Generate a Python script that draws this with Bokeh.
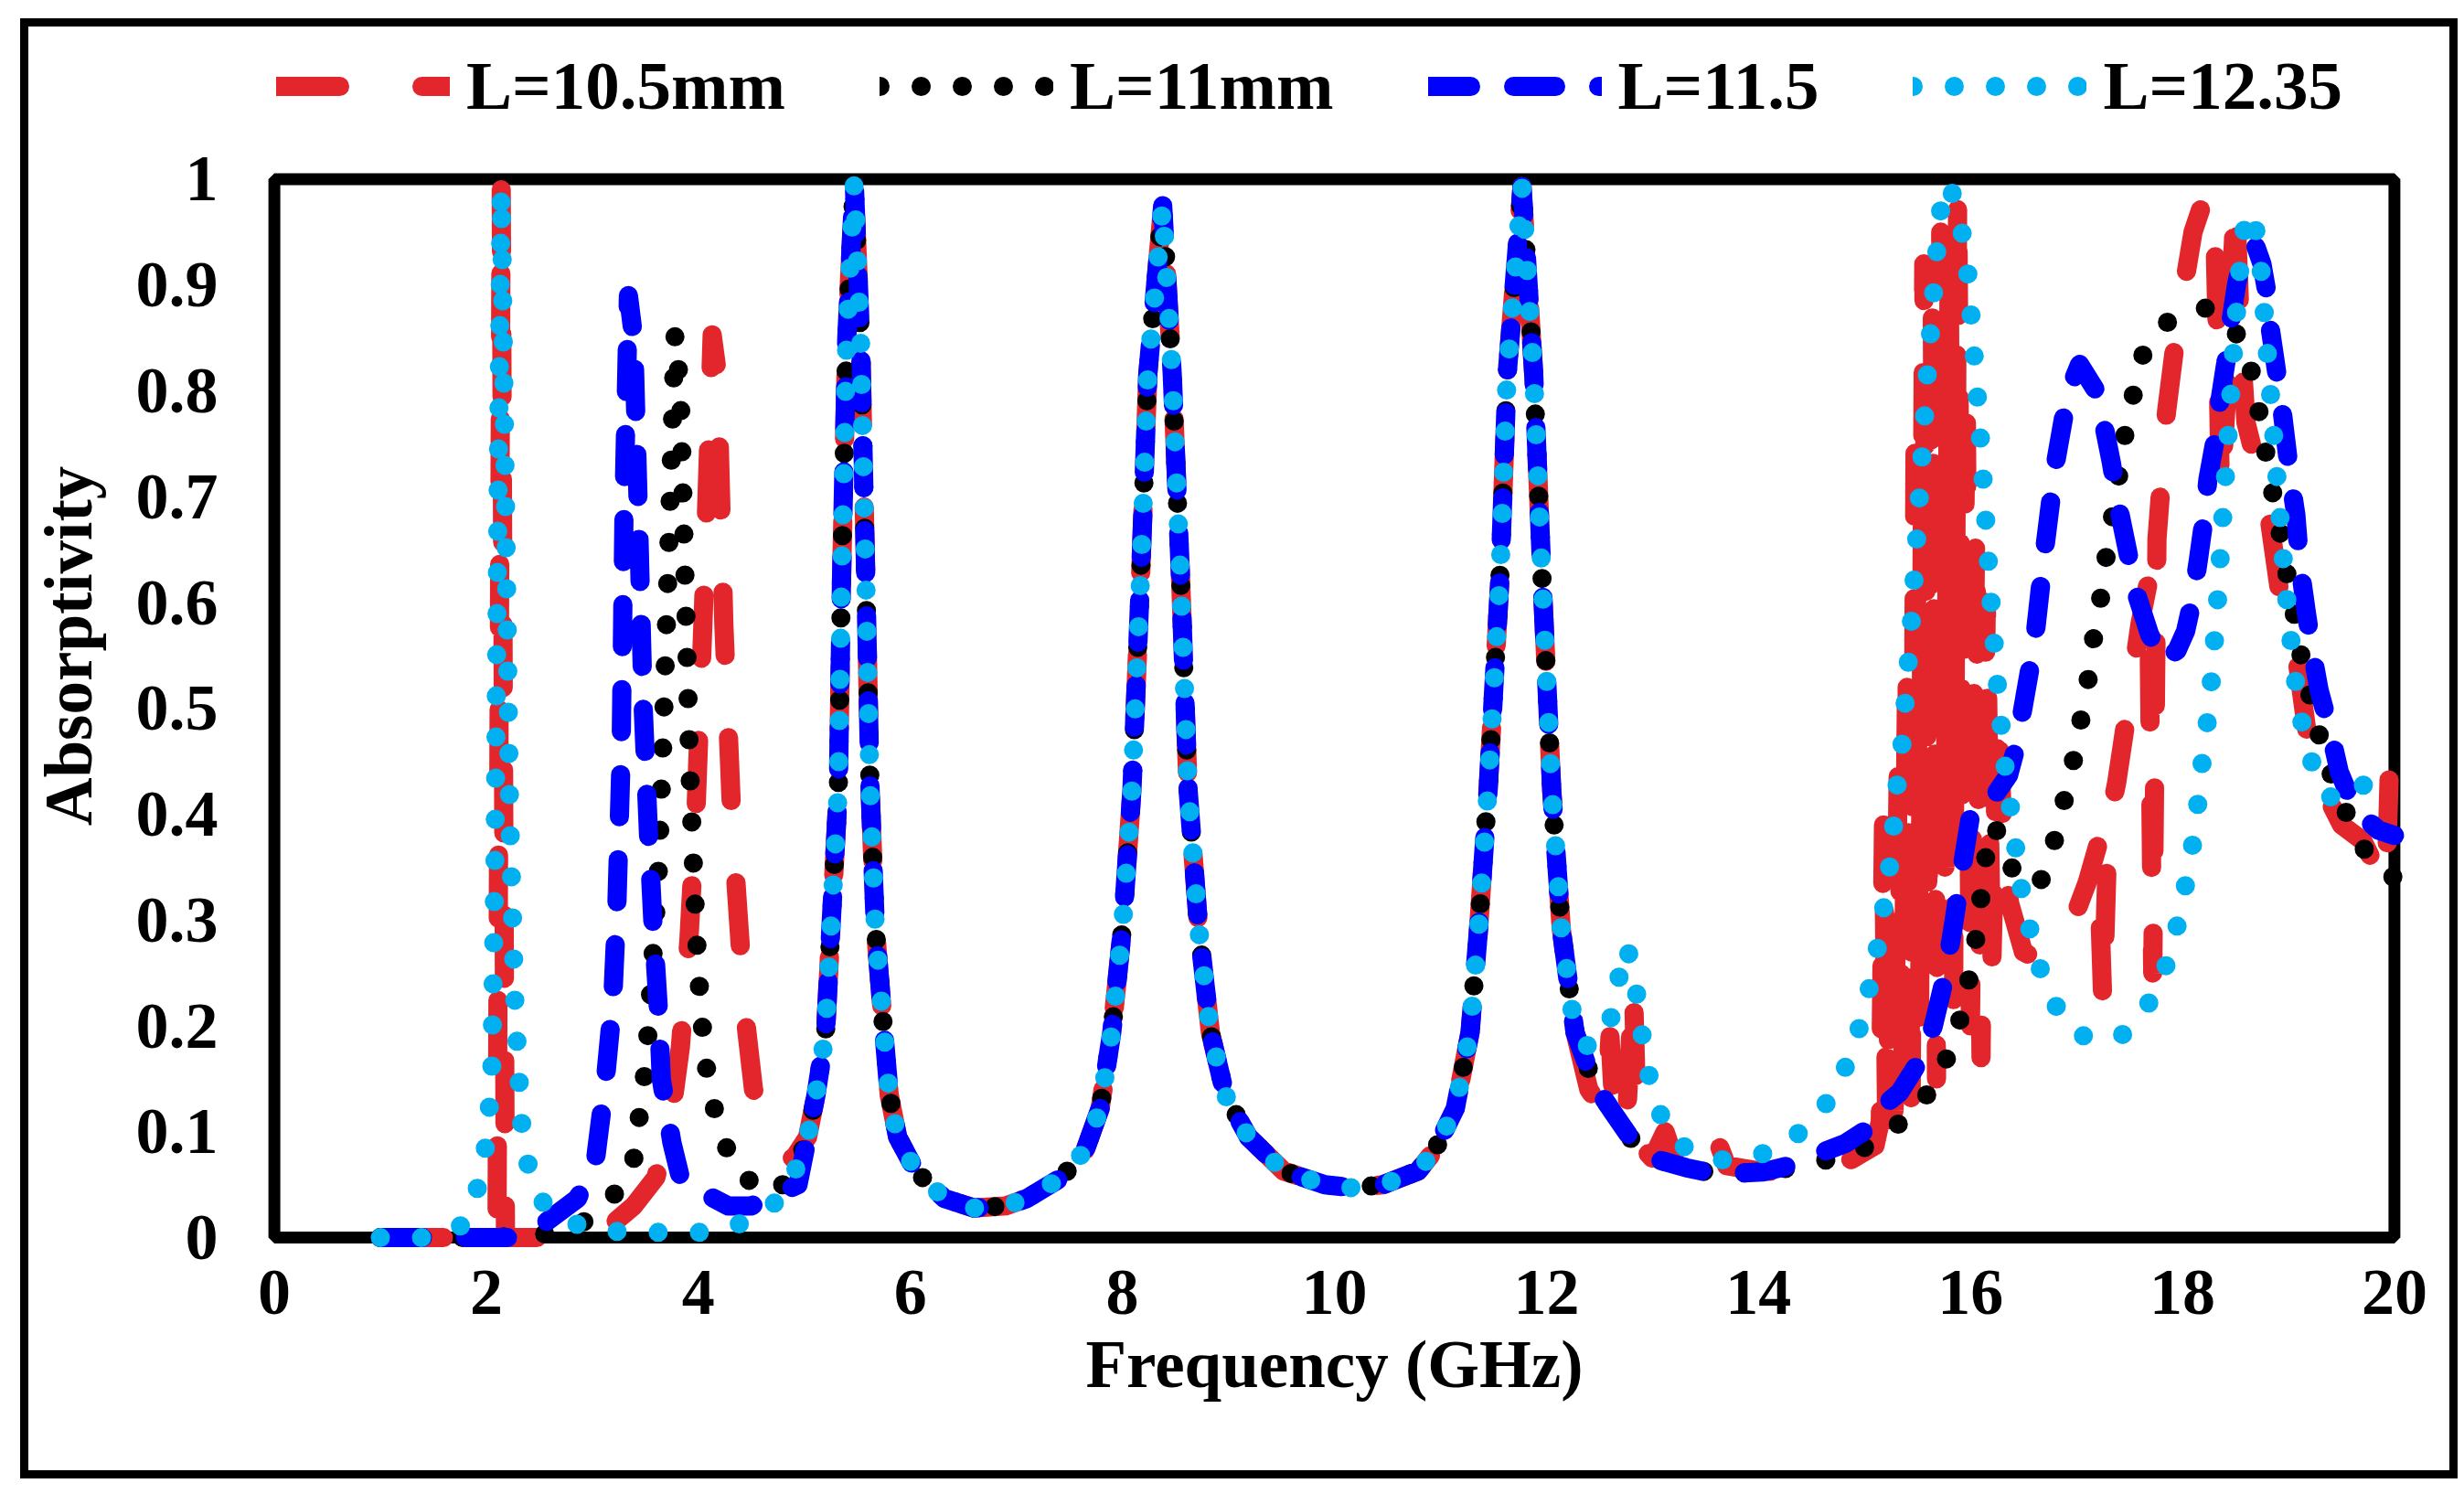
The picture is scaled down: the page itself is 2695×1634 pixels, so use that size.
from bokeh.plotting import figure
from bokeh.models import Legend, LegendItem, FixedTicker, Range1d
from bokeh.embed import file_html
from bokeh.resources import INLINE

# frequency (GHz), absorptivity pairs
red_low = [(1.0, 0), (1.5, 0), (2.0, 0), (2.1, 0.0), (2.14, 0.99), (2.18, 0.0), (2.5, 0.0),
           (3.0, 0.005), (3.19, 0.013), (3.39, 0.03), (3.6, 0.057), (3.75, 0.12), (3.83, 0.18),
           (3.91, 0.28), (3.98, 0.41), (4.05, 0.6), (4.13, 0.853), (4.18, 0.816), (4.24, 0.58),
           (4.31, 0.41), (4.35, 0.342), (4.44, 0.21), (4.52, 0.14), (4.65, 0.1), (4.78, 0.078),
           (4.9, 0.075)]
black_low = [(1.0, 0), (2.0, 0), (2.5, 0.002), (2.92, 0.015), (3.24, 0.044), (3.39, 0.074),
             (3.45, 0.12), (3.5, 0.16), (3.53, 0.2), (3.58, 0.28), (3.62, 0.34), (3.66, 0.45),
             (3.72, 0.65), (3.78, 0.855), (3.83, 0.8), (3.88, 0.6), (3.92, 0.44), (3.95, 0.36),
             (3.98, 0.29), (4.0, 0.25), (4.03, 0.21), (4.06, 0.17), (4.13, 0.13), (4.22, 0.095),
             (4.38, 0.06), (4.7, 0.041), (4.9, 0.06)]
blue_low = [(1.0, 0), (2.2, 0), (2.5, 0.01), (2.86, 0.037), (3.03, 0.074), (3.12, 0.146),
            (3.19, 0.22), (3.23, 0.31), (3.27, 0.45), (3.3, 0.7), (3.34, 0.89), (3.39, 0.85),
            (3.43, 0.7), (3.48, 0.5), (3.53, 0.38), (3.57, 0.3), (3.62, 0.22), (3.65, 0.15),
            (3.75, 0.09), (3.84, 0.053), (4.28, 0.03), (4.5, 0.03), (4.94, 0.05)]
cyan_low = [(1.0, 0), (1.4, 0), (1.75, 0.01), (1.93, 0.05), (2.0, 0.09), (2.05, 0.15),
            (2.08, 0.35), (2.11, 0.7), (2.14, 0.99), (2.18, 0.7), (2.22, 0.4), (2.27, 0.22),
            (2.33, 0.11), (2.4, 0.065), (2.55, 0.03), (2.9, 0.01), (3.3, 0.005), (4.1, 0.005),
            (4.46, 0.015), (4.78, 0.037), (4.98, 0.077)]

# the three resonances all four lengths share
common_mid = [(5.03, 0.095), (5.11, 0.135), (5.2, 0.194), (5.25, 0.292), (5.32, 0.423),
              (5.35, 0.62), (5.4, 0.85), (5.47, 0.997), (5.53, 0.85), (5.58, 0.62),
              (5.62, 0.423), (5.67, 0.292), (5.75, 0.194), (5.8, 0.135), (5.88, 0.095),
              (6.05, 0.063), (6.32, 0.037), (6.6, 0.028), (6.9, 0.03), (7.1, 0.037),
              (7.43, 0.057), (7.65, 0.083), (7.79, 0.122), (7.9, 0.194), (8.0, 0.292),
              (8.09, 0.423), (8.17, 0.62), (8.24, 0.816), (8.38, 0.975), (8.47, 0.816),
              (8.55, 0.62), (8.62, 0.423), (8.72, 0.292), (8.83, 0.194), (8.97, 0.135),
              (9.19, 0.095), (9.52, 0.063), (9.91, 0.05), (10.18, 0.047), (10.46, 0.05),
              (10.79, 0.063), (10.95, 0.083), (11.14, 0.122), (11.28, 0.194), (11.36, 0.292),
              (11.45, 0.423), (11.56, 0.62), (11.63, 0.816), (11.77, 0.993), (11.88, 0.816),
              (11.96, 0.62), (12.05, 0.423), (12.14, 0.292), (12.27, 0.194)]

red_high = [(12.4, 0.14), (12.5, 0.125), (12.56, 0.12), (12.6, 0.19), (12.64, 0.115),
            (12.75, 0.1), (12.82, 0.24), (12.86, 0.09), (13.0, 0.075), (13.12, 0.1),
            (13.22, 0.07), (13.5, 0.064), (13.6, 0.095), (13.7, 0.068), (14.0, 0.063),
            (14.3, 0.062), (14.57, 0.064), (14.88, 0.074), (15.1, 0.087), (15.15, 0.11),
            (15.18, 0.39), (15.21, 0.11), (15.25, 0.3), (15.28, 0.12), (15.32, 0.45),
            (15.36, 0.14), (15.4, 0.55), (15.44, 0.12), (15.48, 0.78), (15.52, 0.2),
            (15.56, 0.92), (15.6, 0.3), (15.64, 0.88), (15.68, 0.15), (15.72, 0.95),
            (15.76, 0.35), (15.8, 0.92), (15.84, 0.2), (15.88, 0.99), (15.92, 0.4),
            (15.96, 0.8), (16.0, 0.2), (16.05, 0.67), (16.1, 0.17), (16.15, 0.6),
            (16.2, 0.25), (16.26, 0.5), (16.32, 0.35), (16.37, 0.316), (16.5, 0.27),
            (16.65, 0.262), (16.8, 0.27), (16.95, 0.295), (17.1, 0.335), (17.2, 0.37),
            (17.25, 0.22), (17.3, 0.39), (17.38, 0.43), (17.5, 0.51), (17.6, 0.58),
            (17.68, 0.62), (17.72, 0.25), (17.76, 0.66), (17.85, 0.78), (17.95, 0.86),
            (18.1, 0.95), (18.22, 0.986), (18.3, 0.975), (18.33, 0.85), (18.36, 0.7),
            (18.42, 0.8), (18.5, 0.984), (18.55, 0.85), (18.6, 0.77), (18.7, 0.73),
            (18.79, 0.7), (18.91, 0.615), (19.08, 0.547), (19.2, 0.46), (19.3, 0.43),
            (19.5, 0.39), (19.7, 0.375), (19.85, 0.345), (19.92, 0.33), (19.96, 0.47),
            (20.0, 0.44)]
black_high = [(12.45, 0.145), (12.63, 0.118), (12.83, 0.089), (13.04, 0.074), (13.32, 0.066),
              (13.61, 0.06), (14.04, 0.062), (14.3, 0.066), (14.54, 0.071), (14.92, 0.08),
              (15.25, 0.101), (15.54, 0.127), (15.74, 0.16), (15.88, 0.197), (15.97, 0.235),
              (16.04, 0.274), (16.09, 0.312), (16.13, 0.351), (16.2, 0.39), (16.32, 0.376),
              (16.42, 0.339), (16.55, 0.333), (16.66, 0.336), (16.79, 0.374), (16.88, 0.411),
              (16.97, 0.45), (17.04, 0.488), (17.11, 0.527), (17.16, 0.565), (17.23, 0.605),
              (17.28, 0.643), (17.34, 0.681), (17.46, 0.76), (17.54, 0.798), (17.63, 0.835),
              (17.86, 0.865), (18.2, 0.879), (18.4, 0.868), (18.6, 0.842), (18.68, 0.804),
              (18.75, 0.765), (18.81, 0.727), (18.88, 0.688), (18.95, 0.651), (19.01, 0.611),
              (19.09, 0.572), (19.14, 0.534), (19.25, 0.497), (19.32, 0.459), (19.47, 0.421),
              (19.61, 0.385), (19.81, 0.351), (20.0, 0.34)]
blue_high = [(12.45, 0.145), (12.63, 0.118), (12.83, 0.089), (13.04, 0.074), (13.32, 0.066),
             (13.61, 0.06), (14.04, 0.062), (14.33, 0.069), (14.53, 0.078), (14.82, 0.089),
             (15.05, 0.104), (15.12, 0.12), (15.33, 0.137), (15.45, 0.156), (15.56, 0.173),
             (15.65, 0.2), (15.75, 0.242), (15.83, 0.289), (15.94, 0.361), (16.0, 0.398),
             (16.15, 0.421), (16.25, 0.421), (16.36, 0.437), (16.43, 0.463), (16.49, 0.497),
             (16.6, 0.56), (16.7, 0.65), (16.8, 0.73), (16.92, 0.798), (17.03, 0.825),
             (17.18, 0.801), (17.25, 0.772), (17.33, 0.732), (17.4, 0.689), (17.48, 0.65),
             (17.56, 0.61), (17.69, 0.57), (17.82, 0.544), (17.95, 0.555), (18.03, 0.573),
             (18.09, 0.6), (18.15, 0.64), (18.2, 0.676), (18.24, 0.716), (18.3, 0.749),
             (18.35, 0.788), (18.41, 0.827), (18.45, 0.861), (18.51, 0.9), (18.56, 0.924),
             (18.68, 0.94), (18.75, 0.92), (18.79, 0.897), (18.83, 0.858), (18.87, 0.831),
             (18.94, 0.782), (19.02, 0.716), (19.07, 0.683), (19.11, 0.633), (19.17, 0.59),
             (19.23, 0.55), (19.29, 0.517), (19.38, 0.484), (19.48, 0.44), (19.63, 0.404),
             (19.85, 0.385), (20.0, 0.38)]
cyan_high = [(12.4, 0.18), (12.5, 0.185), (12.6, 0.203), (12.67, 0.24), (12.76, 0.276),
             (12.84, 0.239), (12.89, 0.2), (12.95, 0.161), (13.04, 0.123), (13.23, 0.089),
             (13.59, 0.073), (13.97, 0.076), (14.32, 0.093), (14.6, 0.12), (14.79, 0.153),
             (14.93, 0.19), (15.03, 0.228), (15.11, 0.266), (15.17, 0.304), (15.23, 0.343),
             (15.27, 0.382), (15.3, 0.421), (15.35, 0.46), (15.38, 0.5), (15.44, 0.577),
             (15.49, 0.655), (15.54, 0.733), (15.59, 0.811), (15.65, 0.889), (15.71, 0.967),
             (15.8, 0.997), (15.91, 0.957), (15.97, 0.918), (16.03, 0.841), (16.09, 0.763),
             (16.14, 0.685), (16.19, 0.607), (16.25, 0.528), (16.32, 0.451), (16.42, 0.374),
             (16.47, 0.335), (16.55, 0.296), (16.64, 0.259), (16.79, 0.221), (17.03, 0.191),
             (17.4, 0.188), (17.66, 0.217), (17.83, 0.252), (17.94, 0.29), (18.02, 0.328),
             (18.09, 0.367), (18.14, 0.405), (18.18, 0.444), (18.23, 0.483), (18.27, 0.522),
             (18.33, 0.6), (18.38, 0.679), (18.43, 0.756), (18.48, 0.834), (18.54, 0.913),
             (18.58, 0.951), (18.66, 0.97), (18.73, 0.93), (18.79, 0.85), (18.85, 0.773),
             (18.91, 0.695), (18.97, 0.617), (19.05, 0.539), (19.1, 0.5), (19.18, 0.462),
             (19.3, 0.425), (19.45, 0.412), (19.61, 0.415), (19.85, 0.446), (19.95, 0.45)]

labels = ["L=10.5mm", "L=11mm", "L=11.5", "L=12.35"]
colors = ["#E3262B", "#000000", "#0000FF", "#00B0F0"]
dashes = ["69 90", "0 45", "46 47", "0 45"]

x_ticks = [0, 2, 4, 6, 8, 10, 12, 14, 16, 18, 20]
y_ticks = [0, 0.1, 0.2, 0.3, 0.4, 0.5, 0.6, 0.7, 0.8, 0.9, 1]
y_labels = ["0", "0.1", "0.2", "0.3", "0.4", "0.5", "0.6", "0.7", "0.8", "0.9", "1"]

FONT = "Liberation Serif"

# the Bokeh frame is taller than the 0..1 box so the legend can sit inside it
p = figure(width=2645, height=1579, frame_width=2342, frame_height=1322,
           x_range=Range1d(-0.1, 20.1), y_range=Range1d(-0.012, 1.13),
           output_backend="svg", toolbar_location=None,
           min_border_left=254, min_border_right=49, min_border_top=16, min_border_bottom=241)
# black outer frame around the whole chart
p.styles = {"margin-left": "22px", "margin-top": "20px", "border": "9px solid black"}
p.xgrid.grid_line_color = None
p.ygrid.grid_line_color = None
p.outline_line_color = None
p.background_fill_color = "white"
p.border_fill_color = "white"

# thick black plot-area box spanning the axis limits
p.quad(left=x_ticks[0], right=x_ticks[-1], bottom=y_ticks[0], top=y_ticks[-1],
       fill_color=None, line_color="black", line_width=13)

series = [red_low + common_mid + red_high,
          black_low + common_mid + black_high,
          blue_low + common_mid + blue_high,
          cyan_low + common_mid + cyan_high]

items = []
for pts, lab, col, dash in zip(series, labels, colors, dashes):
    xs = [q[0] for q in pts]
    ys = [q[1] for q in pts]
    r = p.line(xs, ys, line_color=col, line_width=21, line_dash=dash,
               line_cap="round", line_join="round")
    items.append(LegendItem(label=lab, renderers=[r]))

legend = Legend(items=items, orientation="horizontal", location=(14, 1230),
                label_text_font=FONT, label_text_font_style="bold",
                label_text_font_size="75px", label_text_color="black",
                glyph_width=190, glyph_height=40,
                label_standoff=18, spacing=103, padding=0, margin=0,
                border_line_color=None, background_fill_alpha=0)
p.add_layout(legend)

p.xaxis.ticker = FixedTicker(ticks=x_ticks)
p.yaxis.ticker = FixedTicker(ticks=y_ticks)
p.yaxis.major_label_overrides = dict(zip(y_ticks, y_labels))
p.xaxis.axis_label = "Frequency (GHz)"
p.yaxis.axis_label = "Absorptivity"

for ax in (p.xaxis[0], p.yaxis[0]):
    ax.axis_line_color = None
    ax.major_tick_line_color = None
    ax.minor_tick_line_color = None
    ax.major_tick_out = 0
    ax.major_tick_in = 0
    ax.major_label_text_font = FONT
    ax.major_label_text_font_style = "bold"
    ax.major_label_text_font_size = "72px"
    ax.major_label_text_color = "black"
    ax.axis_label_text_font = FONT
    ax.axis_label_text_font_style = "bold"
    ax.axis_label_text_font_size = "73px"
    ax.axis_label_text_color = "black"

p.xaxis.major_label_standoff = 22
p.xaxis.axis_label_standoff = 12
p.yaxis.major_label_standoff = 50
p.yaxis.axis_label_standoff = 30

open("out.html", "w").write(file_html(p, INLINE))
